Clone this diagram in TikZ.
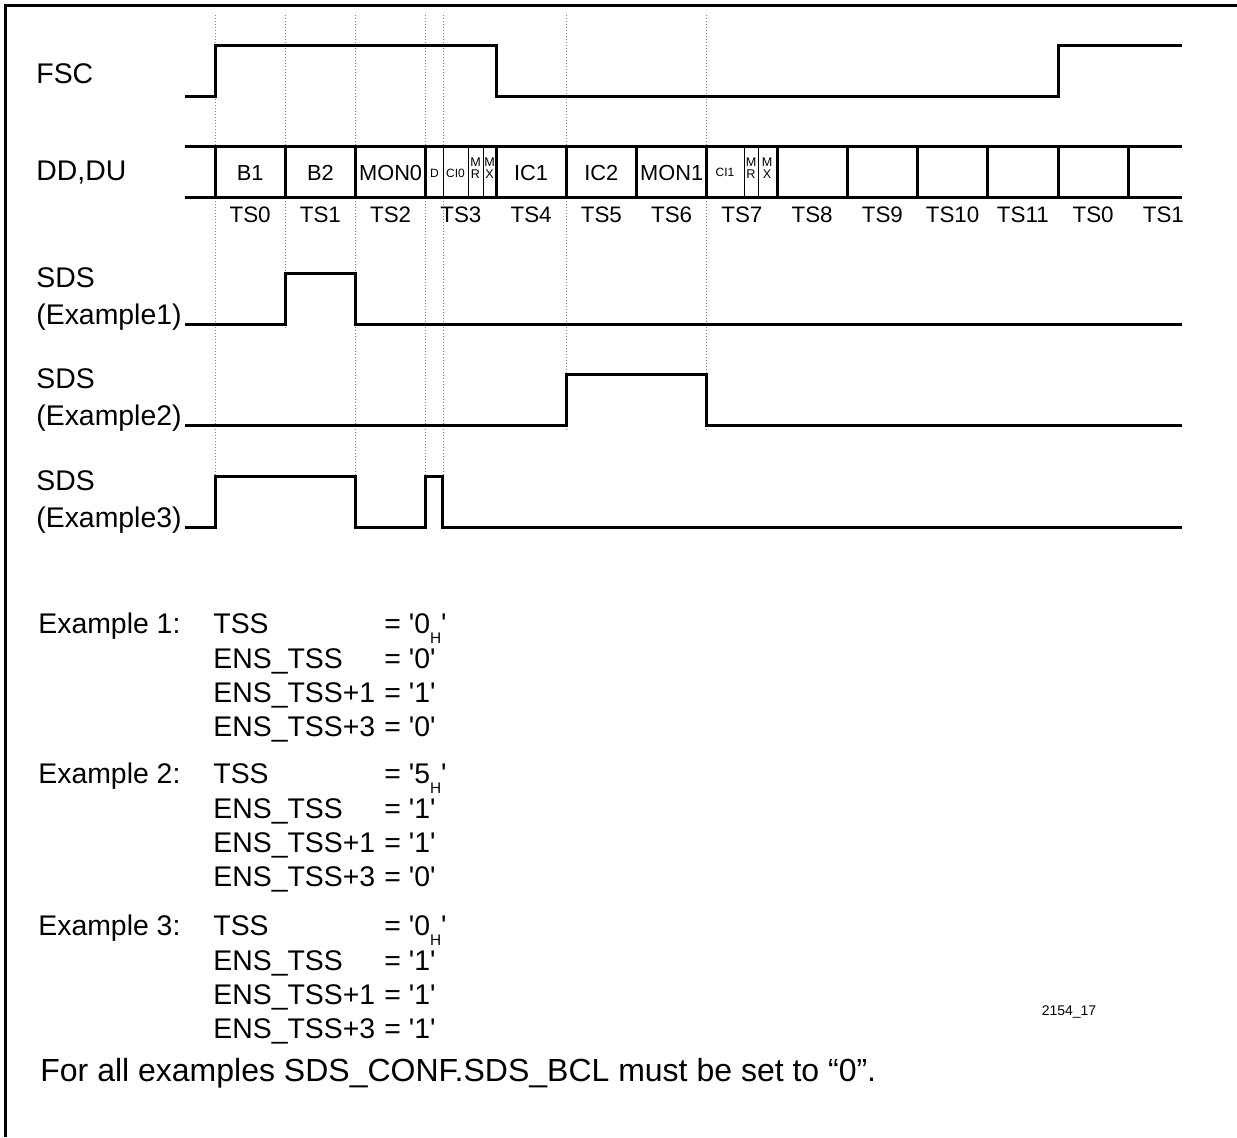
\documentclass[tikz,border=0pt]{standalone}
\usepackage{fontspec}
\newfontfamily\plainfont{Liberation Sans}
\setmainfont{Liberation Sans}
\newcommand\hsub{\raisebox{-5pt}{\fontsize{7.7}{8}\selectfont H}}
\begin{document}
\begin{tikzpicture}[x=0.5pt,y=-0.5pt,
  sig/.style={line width=1.5pt, line join=miter},
  frame/.style={line width=1.5pt},
  guide/.style={gray, line width=0.5pt, dash pattern=on 0.5pt off 1pt},
  cellthick/.style={line width=1.5pt},
  cellthin/.style={line width=0.5pt},
  lab/.style={font=\plainfont\fontsize{14.2}{16}\selectfont, anchor=base west, inner sep=0pt},
  cell/.style={font=\plainfont\fontsize{10.9}{12}\selectfont, anchor=base, inner sep=0pt},
  tslab/.style={font=\plainfont\fontsize{11.2}{12}\selectfont, anchor=base, inner sep=0pt},
  tinytxt/.style={font=\plainfont\fontsize{6}{6}\selectfont, anchor=base, inner sep=0pt},
  mrtxt/.style={font=\plainfont\fontsize{6.3}{6}\selectfont, anchor=base, inner sep=0pt, text height=4.6pt, text depth=0pt},
  extxt/.style={font=\plainfont\fontsize{14.2}{16}\selectfont, anchor=base west, inner sep=0pt},
  foot/.style={font=\plainfont\fontsize{16}{18}\selectfont, anchor=base west, inner sep=0pt},
  idtxt/.style={font=\plainfont\fontsize{7}{8}\selectfont, anchor=center, inner sep=0pt},
]
\useasboundingbox (0,0) rectangle (1237,1137);
% frame (cropped at right and bottom)
\draw[frame] (5,1137) -- (5,5) -- (1237,5);

% guide lines
\foreach \gx/\gy in {215/530, 285.25/330, 355.5/530, 425.75/530, 443/530, 566.25/430, 706.75/430}
  \draw[guide] (\gx,15) -- (\gx,\gy);

% labels
\node[lab] (lfsc) at (36,83) {FSC};
\node[lab] (ldd) at (36,180) {DD,DU};
\node[lab] (lsds1) at (36,287) {SDS};
\node[lab] (lex1) at (36,324) {(Example1)};
\node[lab] (lsds2) at (36,388) {SDS};
\node[lab] (lex2) at (36,425) {(Example2)};
\node[lab] (lsds3) at (36,490) {SDS};
\node[lab] (lex3) at (36,527) {(Example3)};

% FSC
\draw[sig] (185,96) -- (215,96) -- (215,45.5) -- (496,45.5) -- (496,96) -- (1058,96) -- (1058,45.5) -- (1182,45.5);

% DD,DU frame
\draw[sig] (185,146.5) -- (1182,146.5);
\draw[sig] (185,197.5) -- (1182,197.5);
\foreach \i in {0,...,13}
  \draw[cellthick] ({215+70.25*\i},146.5) -- ({215+70.25*\i},197.5);
\foreach \tx in {443,468,483,744,758}
  \draw[cellthin] (\tx,146.5) -- (\tx,197.5);

% cell contents
\node[cell] (cb1) at ({215+70.25*0.5},180) {B1};
\node[cell] (cb2) at ({215+70.25*1.5},180) {B2};
\node[cell] (cmon0) at ({215+70.25*2.5},180) {MON0};
\node[tinytxt] (cd) at (434.5,177) {D};
\node[tinytxt] (cci0) at (455.5,177) {CI0};
\node[mrtxt] (cm1) at (475.5,166.5) {M};
\node[mrtxt] (cr1) at (475.5,178) {R};
\node[mrtxt] (cm2) at (489.5,166.5) {M};
\node[mrtxt] (cx2) at (489.5,178) {X};
\node[cell] (cic1) at ({215+70.25*4.5},180) {IC1};
\node[cell] (cic2) at ({215+70.25*5.5},180) {IC2};
\node[cell] (cmon1) at ({215+70.25*6.5},180) {MON1};
\node[tinytxt] (cci1) at (725,176) {CI1};
\node[mrtxt] (cm3) at (751,166.5) {M};
\node[mrtxt] (cr3) at (751,178) {R};
\node[mrtxt] (cm4) at (767,166.5) {M};
\node[mrtxt] (cx4) at (767,178) {X};

% time slot labels
\foreach \i/\t in {0/TS0,1/TS1,2/TS2,3/TS3,4/TS4,5/TS5,6/TS6,7/TS7,8/TS8,9/TS9,10/TS10,11/TS11,12/TS0,13/TS1}
  \node[tslab] (ts\i) at ({215+70.25*(\i+0.5)},222.5) {\t};

% SDS examples
\draw[sig] (185,324) -- (285.25,324) -- (285.25,273) -- (355.5,273) -- (355.5,324) -- (1182,324);
\draw[sig] (185,425) -- (566.25,425) -- (566.25,374) -- (706.75,374) -- (706.75,425) -- (1182,425);
\draw[sig] (185,527) -- (215,527) -- (215,476.5) -- (355.5,476.5) -- (355.5,527) -- (425.75,527) -- (425.75,476.5) -- (442,476.5) -- (442,527) -- (1182,527);

% example texts
\node[extxt] (e1) at (38,633) {Example 1:};
\node[extxt] (e1a) at (213,633) {TSS};
\node[extxt] (e1b) at (213,668) {ENS\_TSS};
\node[extxt] (e1c) at (213,702) {ENS\_TSS+1};
\node[extxt] (e1d) at (213,736) {ENS\_TSS+3};
\node[extxt] (v1a) at (384,633) {= '0\hsub'};
\node[extxt] (v1b) at (384,668) {= '0'};
\node[extxt] (v1c) at (384,702) {= '1'};
\node[extxt] (v1d) at (384,736) {= '0'};

\node[extxt] (e2) at (38,783) {Example 2:};
\node[extxt] (e2a) at (213,783) {TSS};
\node[extxt] (e2b) at (213,818) {ENS\_TSS};
\node[extxt] (e2c) at (213,852) {ENS\_TSS+1};
\node[extxt] (e2d) at (213,886) {ENS\_TSS+3};
\node[extxt] (v2a) at (384,783) {= '5\hsub'};
\node[extxt] (v2b) at (384,818) {= '1'};
\node[extxt] (v2c) at (384,852) {= '1'};
\node[extxt] (v2d) at (384,886) {= '0'};

\node[extxt] (e3) at (38,935) {Example 3:};
\node[extxt] (e3a) at (213,935) {TSS};
\node[extxt] (e3b) at (213,970) {ENS\_TSS};
\node[extxt] (e3c) at (213,1004) {ENS\_TSS+1};
\node[extxt] (e3d) at (213,1038) {ENS\_TSS+3};
\node[extxt] (v3a) at (384,935) {= '0\hsub'};
\node[extxt] (v3b) at (384,970) {= '1'};
\node[extxt] (v3c) at (384,1004) {= '1'};
\node[extxt] (v3d) at (384,1038) {= '1'};

\node[idtxt] (fid) at (1069,1012) {2154\_17};
\node[foot] (ftxt) at (40,1081) {For all examples SDS\_CONF.SDS\_BCL must be set to “0”.};
\end{tikzpicture}
\end{document}
